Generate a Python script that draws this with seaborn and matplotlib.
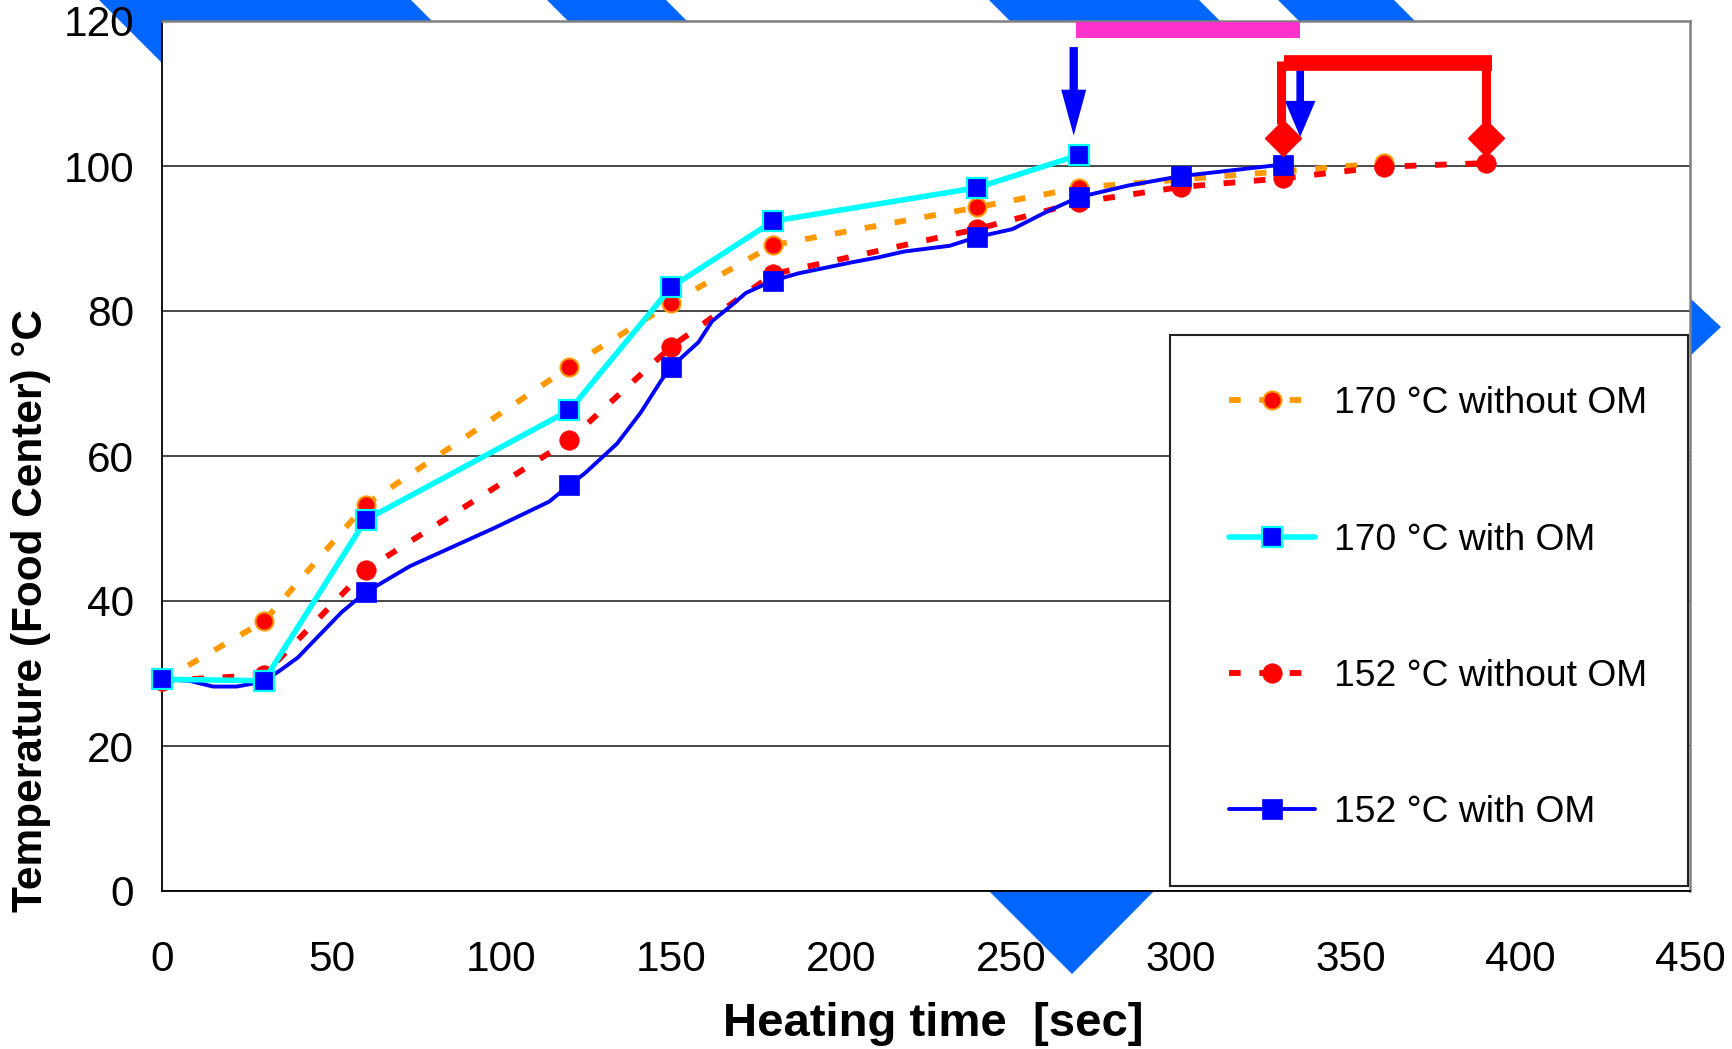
import numpy as np
import pandas as pd
import matplotlib
matplotlib.use("Agg")
import matplotlib.pyplot as plt
import seaborn as sns
from matplotlib.patches import Polygon, Rectangle

# ---------------- data ----------------
t_170_without = [0, 30, 60, 120, 150, 180, 240, 270, 360]
T_170_without = [29.0, 37.2, 53.3, 72.3, 81.1, 89.1, 94.3, 97.0, 100.4]

t_170_with = [0, 30, 60, 120, 150, 180, 240, 270]
T_170_with = [29.2, 29.0, 51.2, 66.3, 83.3, 92.4, 97.0, 101.5]

t_152_without = [0, 30, 60, 120, 150, 180, 240, 270, 300, 330, 360, 390]
T_152_without = [29.0, 29.8, 44.3, 62.2, 75.1, 85.1, 91.3, 95.0, 97.1, 98.3, 99.9, 100.4]

t_152_with = [0, 8, 15, 22, 30, 35, 40, 47, 53, 60, 73, 98, 114, 120, 124.5, 134,
              141, 147, 150, 158, 162, 167, 172, 180, 187.5, 203, 211, 218.5, 232,
              240, 250.5, 261, 270, 284.5, 300, 330]
T_152_with = [29.2, 29.0, 28.2, 28.2, 28.9, 30.5, 32.2, 35.6, 38.5, 41.2, 44.8, 50.1,
              53.7, 56.0, 57.6, 61.7, 66.0, 70.4, 72.3, 75.7, 78.6, 80.5, 82.5, 84.2,
              85.2, 86.7, 87.4, 88.2, 89.0, 90.2, 91.3, 93.8, 95.7, 97.3, 98.6, 100.2]
marker_times_152_with = [0, 30, 60, 120, 150, 180, 240, 270, 300, 330]

labels = ["170 °C without OM", "170 °C with OM", "152 °C without OM", "152 °C with OM"]

x_ticks = [0, 50, 100, 150, 200, 250, 300, 350, 400, 450]
y_ticks = [0, 20, 40, 60, 80, 100, 120]

# annotation values (data units)
pink_bar_x = [269.3, 335.2]
pink_bar_y = [117.7, 119.8]
arrow1_x, arrow1_y = 268.5, [116.4, 104.2]
arrow2_x, arrow2_y = 335.2, [113.2, 104.0]
bracket_x = [329.5, 391.2]
bracket_y = 114.2
bracket_diamond_y = 103.8

# ---------------- style ----------------
sns.set_style("white")
plt.rcParams["font.family"] = ["Liberation Sans", "DejaVu Sans"]
plt.rcParams["text.color"] = "black"
plt.rcParams["xtick.color"] = "black"
plt.rcParams["ytick.color"] = "black"
plt.rcParams["axes.labelcolor"] = "black"

W, H = 1732, 1049
fig = plt.figure(figsize=(W / 100, H / 100), dpi=100)
ax = fig.add_axes([162 / W, 1 - 891 / H, (1690 - 162) / W, (891 - 21) / H])
ax.set_facecolor("white")

ORANGE = "#FF9900"
CYAN = "#00FFFF"
RED = "#FF0000"
BLUE = "#0000FF"
MAGENTA = "#FF33CC"
BGBLUE = "#0066FF"

def px(x, y):
    return (x / W, 1 - y / H)

# background decoration shapes (behind the axes)
shapes = [
    [(99, 0), (411, 0), (432, 21), (162, 21), (162, 63)],
    [(547, 0), (666, 0), (687, 21), (568, 21)],
    [(989, 0), (1199, 0), (1220, 21), (1010, 21)],
    [(1278, 0), (1394, 0), (1415, 21), (1299, 21)],
    [(989, 891), (1154, 891), (1072, 974)],
    [(1690, 298), (1690, 356), (1721, 327)],
]
for s in shapes:
    fig.add_artist(Polygon([px(*p) for p in s], closed=True, facecolor=BGBLUE,
                           edgecolor="none", transform=fig.transFigure, zorder=-5))

df1 = pd.DataFrame({"t": t_170_without, "T": T_170_without})
df2 = pd.DataFrame({"t": t_170_with, "T": T_170_with})
df3 = pd.DataFrame({"t": t_152_without, "T": T_152_without})
df4 = pd.DataFrame({"t": t_152_with, "T": T_152_with})
mark_idx = [t_152_with.index(m) for m in marker_times_152_with]

sns.lineplot(data=df1, x="t", y="T", ax=ax, estimator=None, color=ORANGE, lw=4.2,
             linestyle=(0, (2, 3.2)), dash_capstyle="butt", marker="o", markersize=13,
             markerfacecolor=RED, markeredgecolor=ORANGE, markeredgewidth=1.5,
             label=labels[0], zorder=3, clip_on=False)
sns.lineplot(data=df2, x="t", y="T", ax=ax, estimator=None, color=CYAN, lw=4.0,
             marker="s", markersize=14.5, markerfacecolor=BLUE, markeredgecolor=CYAN,
             markeredgewidth=1.6, label=labels[1], zorder=6, clip_on=False)
sns.lineplot(data=df3, x="t", y="T", ax=ax, estimator=None, color=RED, lw=4.2,
             linestyle=(0, (2, 3.2)), dash_capstyle="butt", marker="o", markersize=14,
             markerfacecolor=RED, markeredgecolor=RED, markeredgewidth=0.5,
             label=labels[2], zorder=4, clip_on=False)
sns.lineplot(data=df4, x="t", y="T", ax=ax, estimator=None, color=BLUE, lw=2.8,
             marker="s", markersize=14, markerfacecolor=BLUE, markeredgecolor=BLUE,
             markeredgewidth=0.5, markevery=mark_idx, label=labels[3], zorder=5,
             clip_on=False)

ax.set_xlim(0, 450)
ax.set_ylim(0, 120)
ax.set_xticks(x_ticks)
ax.set_yticks(y_ticks)
ax.set_xlabel("")
ax.set_ylabel("")
ax.tick_params(axis="both", direction="out", length=9, width=1.2, color="black",
               labelsize=30.5, labelcolor="black")
ax.tick_params(axis="x", pad=26)
ax.tick_params(axis="y", pad=11)
ax.yaxis.grid(True, color="#3a3a3a", lw=1.3)
ax.xaxis.grid(False)
ax.set_axisbelow(True)

for side in ["left", "bottom"]:
    ax.spines[side].set_color("black")
    ax.spines[side].set_linewidth(1.3)
for side in ["top", "right"]:
    ax.spines[side].set_color("#808080")
    ax.spines[side].set_linewidth(1.8)

# annotations
ax.add_patch(Rectangle((pink_bar_x[0], pink_bar_y[0]), pink_bar_x[1] - pink_bar_x[0],
                       pink_bar_y[1] - pink_bar_y[0], facecolor=MAGENTA,
                       edgecolor="none", zorder=7))
ax.annotate("", xy=(arrow1_x, arrow1_y[1]), xytext=(arrow1_x, arrow1_y[0]),
            arrowprops=dict(facecolor=BLUE, edgecolor="none", width=6,
                            headwidth=18, headlength=33, shrink=0),
            zorder=8, annotation_clip=False)
ax.annotate("", xy=(arrow2_x, arrow2_y[1]), xytext=(arrow2_x, arrow2_y[0]),
            arrowprops=dict(facecolor=BLUE, edgecolor="none", width=5.5,
                            headwidth=22, headlength=26, shrink=0),
            zorder=8, annotation_clip=False)
ax.plot([bracket_x[0] + 1.0, bracket_x[1] + 0.6], [bracket_y, bracket_y], color=RED,
        lw=11.3, solid_capstyle="butt", zorder=9)
for bx in [bracket_x[0], bracket_x[1] - 1.4]:
    ax.plot([bx, bx], [bracket_y + 0.3, bracket_diamond_y + 2], color=RED, lw=6.5,
            solid_capstyle="butt", zorder=9)
ax.plot([bracket_x[0] + 0.7, bracket_x[1] - 1.3], [bracket_diamond_y, bracket_diamond_y],
        linestyle="none", marker="D", markersize=18, color=RED, zorder=10)

# legend frame drawn separately, legend content placed inside
ax.add_patch(Rectangle((0.660, 0.006), 0.339, 0.633, transform=ax.transAxes,
                       facecolor="white", edgecolor="#222222", lw=1.5, zorder=19,
                       clip_on=False))
leg = ax.legend(loc="upper left", bbox_to_anchor=(0.6985, 0.5800),
                fontsize=26.8, frameon=False, borderpad=0, labelspacing=2.72,
                handlelength=2.3, handletextpad=0.5, numpoints=1, borderaxespad=0)
leg.set_zorder(20)

fig.text(31 / W, 1 - 611 / H, "Temperature (Food Center) °C", rotation=90,
         fontsize=30.5, fontweight="bold", ha="center", va="center")
fig.text(933 / W, 1 - 1024 / H, "Heating time  [sec]", fontsize=34,
         fontweight="bold", ha="center", va="center")

fig.savefig("out.png", dpi=100)
